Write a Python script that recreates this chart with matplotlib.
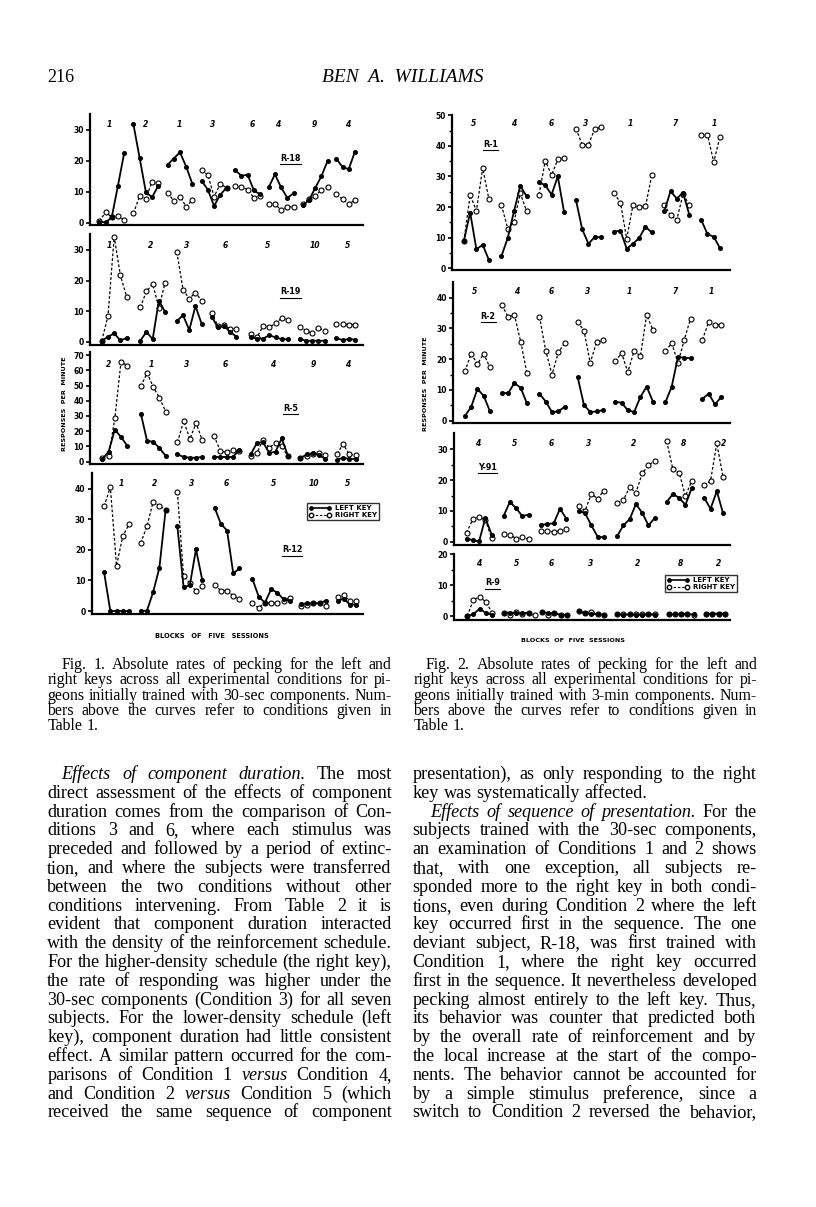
import matplotlib
matplotlib.use("Agg")
import matplotlib.pyplot as plt
from matplotlib.lines import Line2D

W, H = 816, 1207
fig = plt.figure(figsize=(W / 100, H / 100), dpi=100)
fig.patch.set_facecolor("white")

# ---------------------------------------------------------------- data
# x values are in "blocks of five sessions"
# ---- Fig. 1
R18_conds = ["1", "2", "1", "3", "6", "4", "9", "4"]
R18_cond_x = [3.1, 9.0, 14.4, 19.8, 26.2, 30.2, 36.1, 41.5]
R18_starts = [1.5, 7.0, 12.5, 18.0, 23.4, 28.8, 34.3, 39.7]
R18_left = [[0.3, 0.1, 1.7, 11.9, 22.4], [31.7, 20.9, 9.9, 8.2, 11.9],
            [18.7, 20.7, 22.7, 18.1, 12.5], [13.5, 10.6, 5.4, 9.0, 11.3],
            [17.0, 15.1, 15.5, 10.5, 9.1], [11.4, 15.6, 11.4, 8.0, 9.5],
            [5.6, 7.3, 11.2, 15.0, 20.0], [20.7, 17.9, 17.3, 22.9]]
R18_right = [[0.5, 3.3, 1.9, 2.2, 0.9], [3.0, 8.6, 7.8, 13.2, 12.9],
             [9.6, 7.1, 8.4, 5.2, 7.3], [17.0, 15.4, 8.4, 12.5, 11.3],
             [11.7, 11.4, 10.7, 8.0, 8.6], [6.0, 6.1, 4.0, 5.1, 5.1],
             [6.0, 7.8, 8.6, 10.6, 11.4], [9.1, 7.6, 6.0, 7.3]]

R19_conds = ["1", "2", "3", "6", "5", "10", "5"]
R19_cond_x = [3.1, 9.8, 15.6, 21.8, 28.6, 36.3, 41.5]
R19_starts = [1.9, 8.1, 14.0, 19.6, 25.9, 33.8, 39.7]
R19_left = [[0.4, 1.7, 2.8, 0.5, 1.3], [0.4, 3.3, 0.9, 13.5, 9.8],
            [6.9, 8.7, 3.9, 11.7, 5.9], [8.3, 4.8, 5.2, 3.3, 1.7],
            [1.5, 1.1, 1.1, 2.2, 1.5, 0.9, 0.9], [1.1, 0.4, 0.4, 0.4, 0.4],
            [1.3, 0.6, 0.9, 0.8]]
R19_right = [[0.4, 8.5, 34.3, 21.7, 14.8], [11.3, 16.5, 18.9, 11.2, 19.3],
             [29.3, 17.0, 14.1, 16.1, 13.5], [9.6, 5.2, 5.4, 4.3, 4.3],
             [2.6, 1.5, 5.2, 4.8, 6.1, 7.8, 7.2], [5.0, 3.7, 2.8, 4.6, 3.7],
             [5.9, 5.9, 5.7, 5.7]]

R5_conds = ["2", "1", "3", "6", "4", "9", "4"]
R5_cond_x = [3.0, 9.8, 15.5, 21.8, 29.4, 36.0, 41.5]
R5_starts = [2.0, 8.2, 14.1, 20.0, 25.9, 33.9, 39.8]
R5_left = [[1.8, 6.6, 21.0, 16.2, 10.5], [31.5, 13.6, 13.1, 8.8, 3.9],
           [4.8, 3.1, 2.6, 2.6, 3.1], [3.1, 3.1, 3.1, 3.1, 7.4],
           [4.8, 12.3, 12.7, 5.7, 6.6, 15.3, 3.9], [2.2, 4.8, 5.7, 4.4, 1.8],
           [1.3, 2.6, 1.8, 1.8]]
R5_right = [[2.2, 3.5, 28.4, 65.6, 63.0], [49.5, 58.2, 49.0, 42.0, 32.8],
            [12.7, 26.7, 14.9, 25.4, 14.0], [17.1, 7.0, 6.1, 7.9, 7.0],
            [3.5, 5.7, 14.4, 9.2, 12.3, 10.1, 3.5], [2.2, 3.5, 5.3, 5.7, 4.4],
            [5.3, 11.4, 4.8, 4.4]]

R12_conds = ["1", "2", "3", "6", "5", "10", "5"]
R12_cond_x = [4.7, 10.1, 16.1, 21.7, 29.3, 35.8, 41.2]
R12_starts = [2.0, 7.9, 13.8, 19.8, 25.9, 33.7, 39.6]
R12_left = [[12.6, 0.0, 0.0, 0.0, 0.0], [0.0, 0.1, 6.2, 14.1, 32.9],
            [27.7, 7.8, 8.4, 20.2, 10.2], [33.8, 28.5, 26.3, 12.3, 13.9],
            [10.4, 4.7, 2.7, 7.1, 6.0, 3.8, 3.4], [2.3, 2.5, 2.5, 2.5, 3.4],
            [3.4, 4.0, 2.1, 2.1]]
R12_right = [[34.2, 40.5, 14.8, 24.4, 28.3], [22.2, 27.7, 35.7, 34.4, 33.1],
             [38.8, 11.5, 9.1, 6.4, 8.2], [8.4, 6.7, 6.7, 4.9, 4.0],
             [2.5, 1.0, 2.7, 2.5, 2.7, 3.4, 4.3], [1.6, 2.1, 2.7, 2.5, 1.6],
             [4.7, 5.1, 3.4, 3.2]]

# ---- Fig. 2
R1_conds = ["5", "4", "6", "3", "1", "7", "1"]
R1_cond_x = [3.4, 9.8, 15.8, 21.3, 28.5, 35.7, 41.9]
R1_starts = [1.9, 7.9, 13.9, 19.8, 25.9, 33.9, 39.8]
R1_left = [[9.0, 18.2, 6.2, 7.7, 2.7], [4.0, 9.9, 18.6, 26.9, 23.6],
           [28.2, 27.1, 24.1, 30.0, 18.4], [22.3, 12.7, 8.0, 10.3, 10.1],
           [12.0, 12.3, 6.4, 8.0, 9.9, 13.6, 11.7], [18.6, 25.2, 22.8, 24.7, 17.5],
           [15.8, 11.2, 10.3, 6.6]]
R1_right = [[8.8, 23.9, 18.8, 32.8, 22.5], [20.6, 13.0, 15.1, 24.5, 18.8],
            [24.1, 35.2, 30.4, 35.6, 36.1], [45.6, 40.4, 40.4, 45.6, 46.1],
            [24.5, 21.5, 9.7, 20.6, 19.9, 20.2, 30.4], [20.8, 17.3, 15.8, 24.3, 20.6],
            [43.7, 43.7, 34.7, 43.0]]

R2_conds = ["5", "4", "6", "3", "1", "7", "1"]
R2_cond_x = [3.5, 10.1, 15.7, 21.5, 28.2, 35.4, 41.2]
R2_starts = [1.9, 7.8, 13.8, 19.9, 25.9, 33.9, 39.8]
R2_left = [[1.5, 4.5, 10.3, 8.1, 3.0], [9.0, 9.0, 12.2, 10.7, 5.6],
           [8.8, 6.2, 2.8, 3.0, 4.5], [14.1, 5.1, 2.8, 3.0, 3.4],
           [6.2, 5.8, 3.4, 2.8, 7.7, 11.1, 6.2], [6.0, 11.1, 20.7, 20.5, 20.3],
           [7.1, 8.8, 5.3, 7.7]]
R2_right = [[16.0, 21.8, 18.4, 21.8, 17.3], [37.6, 33.8, 34.4, 25.7, 15.4],
            [33.8, 22.7, 15.0, 22.2, 25.2], [32.1, 29.3, 18.8, 25.5, 26.1],
            [19.3, 22.0, 15.8, 22.7, 21.0, 34.4, 29.5], [22.7, 25.2, 18.8, 26.3, 33.2],
            [26.3, 32.1, 31.0, 31.2]]

Y91_conds = ["4", "5", "6", "3", "2", "8", "2"]
Y91_cond_x = [3.7, 9.7, 15.5, 21.5, 28.6, 36.6, 43.0]
Y91_starts = [2.0, 7.9, 13.9, 19.9, 26.0, 33.9, 39.9]
Y91_left = [[1.0, 0.5, 0.1, 7.7, 2.3], [8.3, 12.9, 10.9, 8.3, 8.8],
            [5.5, 5.7, 6.0, 10.7, 7.5], [10.1, 9.2, 5.3, 1.6, 1.4],
            [1.8, 5.3, 7.3, 12.2, 9.4, 5.3, 7.7], [12.9, 15.5, 14.2, 12.0, 17.4],
            [14.2, 10.7, 16.4, 9.2]]
Y91_right = [[2.9, 7.3, 8.1, 7.0, 1.2], [2.5, 2.3, 1.0, 1.4, 0.8],
             [3.6, 3.6, 3.1, 3.6, 4.2], [11.6, 10.1, 15.5, 14.0, 16.6],
             [12.7, 13.5, 17.7, 15.9, 22.2, 24.8, 26.3], [32.6, 23.5, 22.4, 14.8, 19.8],
             [18.3, 19.8, 32.0, 20.9]]

R9_conds = ["4", "5", "6", "3", "2", "8", "2"]
R9_cond_x = [3.9, 9.9, 15.5, 21.8, 29.2, 36.1, 42.1]
R9_starts = [2.1, 7.9, 14.0, 19.9, 26.0, 34.2, 40.2]
R9_left = [[0.0, 0.6, 2.4, 0.9, 0.4], [1.1, 1.1, 0.9, 0.9, 1.1],
           [1.3, 0.9, 0.9, 0.4, 0.4], [1.5, 0.9, 0.6, 0.6, 0.4],
           [0.5, 0.4, 0.5, 0.4, 0.4, 0.5, 0.4], [0.6, 0.5, 0.6, 0.6, 0.5],
           [0.8, 0.7, 0.8, 0.8]]
R9_right = [[0.0, 5.2, 6.2, 4.5, 0.9], [1.1, 0.2, 1.3, 0.6, 0.9, 0.2],
            [1.3, 0.4, 0.9, 0.4, 0.2], [1.7, 1.1, 1.3, 0.6, 0.4],
            [0.5, 0.6, 0.5, 0.5, 0.6, 0.5, 0.6], [0.5, 0.7, 0.5, 0.5, 0.4],
            [0.6, 0.7, 0.6, 0.8]]

# ---------------------------------------------------------------- helpers
SANS = "DejaVu Sans"
SERIF = "Liberation Serif"


def ax_at(x0, y0, x1, y1):
    return fig.add_axes([x0 / W, 1 - y1 / H, (x1 - x0) / W, (y1 - y0) / H])


def panel(box, xmax, ylim, yticks, name, name_xy, conds, cond_x, cond_y,
          starts, left, right, minor=None):
    ax = ax_at(*box)
    ax.set_facecolor("none")
    for s, rv in zip(starts, right):
        ax.plot([s + i for i in range(len(rv))], rv, color="k", lw=0.9,
                ls=(0, (2.2, 1.6)), marker="o", ms=3.6, mfc="white",
                mec="k", mew=0.8, clip_on=False, zorder=2)
    for s, lv in zip(starts, left):
        ax.plot([s + i for i in range(len(lv))], lv, color="k", lw=1.3,
                marker="o", ms=2.6, mfc="k", mec="k", clip_on=False, zorder=3)
    for c, cx in zip(conds, cond_x):
        ax.text(cx, cond_y, c, ha="center", va="center", fontsize=5.5,
                style="italic", weight="bold", family=SANS)
    t = ax.text(name_xy[0], name_xy[1], name, ha="center", va="center",
                fontsize=5.8, weight="bold", family=SANS)
    ax.set_xlim(0, xmax)
    ax.set_ylim(*ylim)
    ax.set_yticks(yticks)
    if minor is not None:
        ax.set_yticks(minor, minor=True)
    ax.set_xticks([])
    for sp in ("top", "right"):
        ax.spines[sp].set_visible(False)
    for sp in ("left", "bottom"):
        ax.spines[sp].set_linewidth(1.6)
    ax.tick_params(axis="y", which="major", length=3, width=1.2, pad=1.5,
                   labelsize=5.5)
    ax.tick_params(axis="y", which="minor", length=2, width=1.0)
    for lab in ax.get_yticklabels():
        lab.set_fontweight("bold")
        lab.set_family(SANS)
    return ax, t


def legend(ax, xy):
    h1 = Line2D([], [], color="k", lw=1.2, marker="o", ms=2.4, mfc="k")
    h2 = Line2D([], [], color="k", lw=0.8, ls=(0, (2.2, 1.6)), marker="o",
                ms=3.2, mfc="white", mec="k")
    leg = ax.legend([h1, h2], ["LEFT KEY", "RIGHT KEY"], loc="upper left",
                    bbox_to_anchor=xy, bbox_transform=ax.transData,
                    numpoints=2, handlelength=3.2, fontsize=5, frameon=True,
                    fancybox=False, edgecolor="k", borderpad=0.3,
                    labelspacing=0.15, handletextpad=0.5, borderaxespad=0)
    leg.get_frame().set_linewidth(1.0)
    for t in leg.get_texts():
        t.set_fontweight("bold")


# ---------------------------------------------------------------- Fig. 1
name_texts = []
a, t = panel((90, 114, 363, 225), 44, (-0.74, 35.06), [0, 10, 20, 30], "R-18",
             (32.3, 20.8), R18_conds, R18_cond_x, 31.6, R18_starts, R18_left,
             R18_right)
name_texts.append(t)
a, t = panel((90, 234, 363, 345), 44, (-0.98, 35.2), [0, 10, 20, 30], "R-19",
             (32.3, 16.4), R19_conds, R19_cond_x, 31.6, R19_starts, R19_left,
             R19_right)
name_texts.append(t)
a, t = panel((90, 352, 363, 463.5), 44, (-1.18, 72.0),
             [0, 10, 20, 30, 40, 50, 60, 70], "R-5", (32.3, 35), R5_conds,
             R5_cond_x, 63.9, R5_starts, R5_left, R5_right)
name_texts.append(t)
a, t = panel((91.7, 473, 363, 614), 43.7, (-0.98, 45.1), [0, 10, 20, 30, 40],
             "R-12", (32.3, 20), R12_conds, R12_cond_x, 41.6, R12_starts,
             R12_left, R12_right)
name_texts.append(t)
legend(a, (34.7, 35.3))

# ---------------------------------------------------------------- Fig. 2
a, t = panel((452, 115.3, 730, 270), 44.4, (-0.56, 50.0),
             [0, 10, 20, 30, 40, 50], "R-1", (6.1, 40.6), R1_conds, R1_cond_x,
             47.2, R1_starts, R1_left, R1_right, minor=[5, 15, 25, 35, 45])
name_texts.append(t)
a, t = panel((453, 281.7, 730, 423.3), 44.2, (-0.85, 45.2),
             [0, 10, 20, 30, 40], "R-2", (5.6, 33.9), R2_conds, R2_cond_x,
             41.9, R2_starts, R2_left, R2_right, minor=[5, 15, 25, 35])
name_texts.append(t)
a, t = panel((454, 433, 730, 545), 44.0, (-1.07, 35.3), [0, 10, 20, 30],
             "Y-91", (5.4, 24.2), Y91_conds, Y91_cond_x, 31.9, Y91_starts,
             Y91_left, Y91_right, minor=[5, 15, 25])
name_texts.append(t)
a, t = panel((454, 554, 730, 620), 44.0, (-1.29, 20.0), [0, 10, 20], "R-9",
             (6.2, 10.8), R9_conds, R9_cond_x, 16.8, R9_starts, R9_left,
             R9_right, minor=[5, 15])
name_texts.append(t)
legend(a, (33.6, 13.2))

# axis titles
fig.text(65 / W, 1 - 404 / H, "RESPONSES  PER  MINUTE", rotation=90,
         ha="center", va="center", fontsize=4.6, weight="bold", family=SANS)
fig.text(425 / W, 1 - 384 / H, "RESPONSES  PER  MINUTE", rotation=90,
         ha="center", va="center", fontsize=4.6, weight="bold", family=SANS)
fig.text(212 / W, 1 - 636 / H, "BLOCKS   OF   FIVE   SESSIONS", ha="center",
         va="center", fontsize=4.8, weight="bold", family=SANS)
fig.text(573 / W, 1 - 641 / H, "BLOCKS  OF  FIVE  SESSIONS", ha="center",
         va="center", fontsize=4.6, weight="bold", family=SANS)

# ---------------------------------------------------------------- page text
renderer = fig.canvas.get_renderer()
_cache = {}


def width(s, size, italic=False):
    key = (s, size, italic)
    if key not in _cache:
        tt = fig.text(0, 0, s, fontsize=size, family=SERIF,
                      style="italic" if italic else "normal")
        _cache[key] = tt.get_window_extent(renderer).width
        tt.remove()
    return _cache[key]


def space_w(size):
    return width("a a", size) - width("aa", size)


# running head (slightly letter-spaced)
fig.text(47 / W, 1 - 82 / H, "216", ha="left", va="baseline", fontsize=13,
         family=SERIF)
fig.text(403 / W, 1 - 82 / H, "BEN  A.  WILLIAMS", ha="center",
         va="baseline", fontsize=14, family=SERIF, style="italic")


def parse(line):
    words = []
    ital = False
    for wd in line.split(" "):
        start_it = wd.startswith("*")
        end_it = wd.endswith("*")
        if start_it:
            ital = True
        words.append((wd.strip("*"), ital))
        if end_it:
            ital = False
    return words


def fit_size(lines, x_left, x_right, indent, factor):
    base = 10.0
    sp = space_w(base)
    best = 30.0
    for line, ind, just in lines:
        if not just:
            continue
        words = parse(line)
        nat = sum(width(w, base, it) for w, it in words) + factor * sp * (len(words) - 1)
        avail = x_right - x_left - (indent if ind else 0)
        best = min(best, base * avail / nat)
    return round(best, 2)


def block(lines, x_left, x_right, y_first, dy, size, indent):
    space = space_w(size)
    for i, (line, ind, just) in enumerate(lines):
        y = y_first + i * dy
        words = parse(line)
        ws = [width(w, size, it) for w, it in words]
        x0 = x_left + (indent if ind else 0)
        avail = x_right - x0
        if just and len(words) > 1:
            gap = (avail - sum(ws)) / (len(words) - 1)
        else:
            gap = space
        x = x0
        for (w, it), wv in zip(words, ws):
            fig.text(x / W, 1 - y / H, w, ha="left", va="baseline",
                     fontsize=size, family=SERIF,
                     style="italic" if it else "normal")
            x += wv + gap


cap1 = [("Fig. 1. Absolute rates of pecking for the left and", True, True),
        ("right keys across all experimental conditions for pi-", False, True),
        ("geons initially trained with 30-sec components. Num-", False, True),
        ("bers above the curves refer to conditions given in", False, True),
        ("Table 1.", False, False)]
cap2 = [("Fig. 2. Absolute rates of pecking for the left and", True, True),
        ("right keys across all experimental conditions for pi-", False, True),
        ("geons initially trained with 3-min components. Num-", False, True),
        ("bers above the curves refer to conditions given in", False, True),
        ("Table 1.", False, False)]

col1 = [("*Effects of component duration.* The most", True, True),
        ("direct assessment of the effects of component", False, True),
        ("duration comes from the comparison of Con-", False, True),
        ("ditions 3 and 6, where each stimulus was", False, True),
        ("preceded and followed by a period of extinc-", False, True),
        ("tion, and where the subjects were transferred", False, True),
        ("between the two conditions without other", False, True),
        ("conditions intervening. From Table 2 it is", False, True),
        ("evident that component duration interacted", False, True),
        ("with the density of the reinforcement schedule.", False, True),
        ("For the higher-density schedule (the right key),", False, True),
        ("the rate of responding was higher under the", False, True),
        ("30-sec components (Condition 3) for all seven", False, True),
        ("subjects. For the lower-density schedule (left", False, True),
        ("key), component duration had little consistent", False, True),
        ("effect. A similar pattern occurred for the com-", False, True),
        ("parisons of Condition 1 *versus* Condition 4,", False, True),
        ("and Condition 2 *versus* Condition 5 (which", False, True),
        ("received the same sequence of component", False, True)]
col2 = [("presentation), as only responding to the right", False, True),
        ("key was systematically affected.", False, False),
        ("*Effects of sequence of presentation.* For the", True, True),
        ("subjects trained with the 30-sec components,", False, True),
        ("an examination of Conditions 1 and 2 shows", False, True),
        ("that, with one exception, all subjects re-", False, True),
        ("sponded more to the right key in both condi-", False, True),
        ("tions, even during Condition 2 where the left", False, True),
        ("key occurred first in the sequence. The one", False, True),
        ("deviant subject, R-18, was first trained with", False, True),
        ("Condition 1, where the right key occurred", False, True),
        ("first in the sequence. It nevertheless developed", False, True),
        ("pecking almost entirely to the left key. Thus,", False, True),
        ("its behavior was counter that predicted both", False, True),
        ("by the overall rate of reinforcement and by", False, True),
        ("the local increase at the start of the compo-", False, True),
        ("nents. The behavior cannot be accounted for", False, True),
        ("by a simple stimulus preference, since a", False, True),
        ("switch to Condition 2 reversed the behavior,", False, True)]

cap_size = min(fit_size(cap1, 47.3, 391.7, 14.4, 1.15),
               fit_size(cap2, 413.3, 757.3, 12.7, 1.15))
body_size = min(fit_size(col1, 47.3, 391.7, 14.4, 1.1),
                fit_size(col2, 412.7, 756.7, 18.0, 1.1))
block(cap1, 47.3, 391.7, 669, 15.3, cap_size, 14.4)
block(cap2, 413.3, 757.3, 669, 15.3, cap_size, 12.7)
block(col1, 47.3, 391.7, 779, 18.8, body_size, 14.4)
block(col2, 412.7, 756.7, 779, 18.8, body_size, 18.0)

# underline the subject labels
fig.canvas.draw()
for t in name_texts:
    bb = t.get_window_extent(renderer)
    fig.lines.append(Line2D([bb.x0 / W, bb.x1 / W],
                            [(bb.y0 - 1.5) / H, (bb.y0 - 1.5) / H],
                            transform=fig.transFigure, color="k", lw=0.8))

fig.savefig("out.png", dpi=100, facecolor="white")
